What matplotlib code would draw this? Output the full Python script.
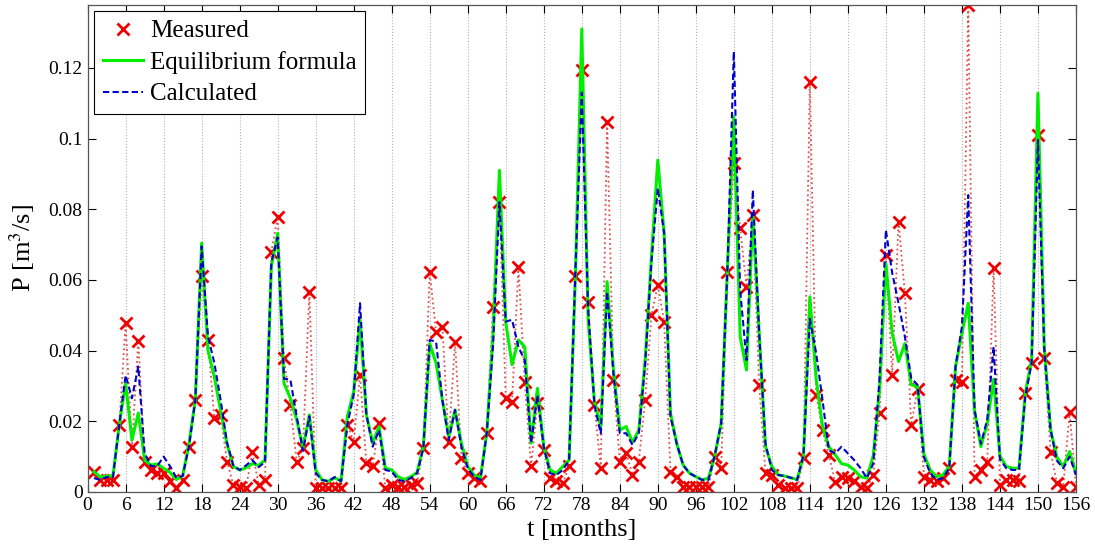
import matplotlib
matplotlib.use("Agg")
import matplotlib.pyplot as plt
import numpy as np
from matplotlib.ticker import FuncFormatter

months = list(range(1, 157))

measured = [
    0.0057, 0.0034, 0.0034, 0.0034, 0.019, 0.0477, 0.0128, 0.0428, 0.0086, 0.0062,
    0.0053, 0.0053, 0.003, 0.001, 0.0034, 0.0128, 0.026, 0.061, 0.043, 0.0209,
    0.0218, 0.0086, 0.002, 0.0015, 0.001, 0.0114, 0.002, 0.0034, 0.068, 0.0779,
    0.0378, 0.0246, 0.0086, 0.0124, 0.0567, 0.001, 0.001, 0.001, 0.001, 0.001,
    0.019, 0.0142, 0.0331, 0.0081, 0.0072, 0.0194, 0.001, 0.002, 0.0015, 0.0015,
    0.002, 0.0025, 0.0124, 0.0623, 0.0453, 0.0468, 0.0142, 0.0425, 0.0095, 0.0053,
    0.0039, 0.003, 0.0166, 0.0524, 0.0821, 0.0265, 0.0255, 0.0637, 0.0312, 0.0072,
    0.0251, 0.0119, 0.0039, 0.003, 0.0025, 0.0072, 0.061, 0.1194, 0.0538, 0.0246,
    0.0067, 0.1048, 0.0317, 0.0086, 0.011, 0.0048, 0.0086, 0.026, 0.050, 0.0586,
    0.0482, 0.0057, 0.0043, 0.0015, 0.0015, 0.0015, 0.0015, 0.0015, 0.010, 0.0067,
    0.0623, 0.093, 0.0746, 0.058, 0.0784, 0.0303, 0.0053, 0.0048, 0.002, 0.001,
    0.001, 0.001, 0.0095, 0.1161, 0.0274, 0.0175, 0.0105, 0.0028, 0.0043, 0.0039,
    0.003, 0.0015, 0.001, 0.0048, 0.0223, 0.067, 0.0331, 0.0765, 0.0562, 0.019,
    0.029, 0.0043, 0.0034, 0.003, 0.0039, 0.0067, 0.0317, 0.0312, 0.1378, 0.0043,
    0.0062, 0.0086, 0.0633, 0.002, 0.0034, 0.0034, 0.003, 0.0279, 0.0364, 0.101,
    0.0378, 0.0114, 0.0025, 0.0015, 0.0227, 0.0015,
]

equilibrium = [
    0.0057, 0.0042, 0.0045, 0.0045, 0.019, 0.0308, 0.0147, 0.0223, 0.009, 0.0076,
    0.0079, 0.0067, 0.0055, 0.0035, 0.0045, 0.0136, 0.026, 0.0704, 0.040, 0.0326,
    0.023, 0.0136, 0.0072, 0.0062, 0.0068, 0.008, 0.0075, 0.009, 0.0637, 0.0732,
    0.0307, 0.0265, 0.0204, 0.0124, 0.0218, 0.0062, 0.0034, 0.003, 0.004, 0.003,
    0.0213, 0.0284, 0.0487, 0.0219, 0.0138, 0.0185, 0.0067, 0.0062, 0.0043, 0.0035,
    0.0043, 0.0055, 0.0128, 0.042, 0.0364, 0.026, 0.0156, 0.0232, 0.0138, 0.0072,
    0.0048, 0.0039, 0.0166, 0.0449, 0.091, 0.048, 0.036, 0.043, 0.041, 0.0138,
    0.0293, 0.0128, 0.0062, 0.0053, 0.0072, 0.009, 0.0615, 0.131, 0.0487, 0.0255,
    0.0185, 0.0595, 0.0345, 0.0175, 0.0185, 0.014, 0.0175, 0.0373, 0.0666, 0.0939,
    0.0732, 0.0223, 0.0136, 0.0076, 0.0053, 0.0043, 0.0034, 0.0039, 0.0102, 0.0194,
    0.0637, 0.1062, 0.0439, 0.0345, 0.0788, 0.0449, 0.0128, 0.0072, 0.0048, 0.0045,
    0.004, 0.0035, 0.0102, 0.0552, 0.0319, 0.0185, 0.0128, 0.0105, 0.008, 0.0076,
    0.0062, 0.0043, 0.0039, 0.0102, 0.0288, 0.0647, 0.0449, 0.0369, 0.042, 0.0303,
    0.0298, 0.0107, 0.0062, 0.0043, 0.0048, 0.0072, 0.0355, 0.0449, 0.0534, 0.0228,
    0.0128, 0.0194, 0.0319, 0.0102, 0.0072, 0.0067, 0.0067, 0.0279, 0.0373, 0.1128,
    0.0411, 0.0175, 0.0098, 0.0072, 0.0114, 0.0053,
]

calculated = [
    0.0039, 0.0034, 0.0042, 0.0042, 0.019, 0.033, 0.0265, 0.0355, 0.011, 0.0073,
    0.0073, 0.010, 0.0073, 0.004, 0.0045, 0.0128, 0.026, 0.0695, 0.044, 0.0365,
    0.026, 0.014, 0.0075, 0.0062, 0.0075, 0.009, 0.007, 0.0085, 0.065, 0.072,
    0.032, 0.0318, 0.0214, 0.0116, 0.0214, 0.0053, 0.0034, 0.003, 0.0042, 0.003,
    0.019, 0.0275, 0.0534, 0.0219, 0.0128, 0.0175, 0.0062, 0.0058, 0.0034, 0.003,
    0.0039, 0.0053, 0.0124, 0.043, 0.0425, 0.026, 0.0147, 0.0232, 0.0128, 0.0067,
    0.0043, 0.0034, 0.0166, 0.0415, 0.082, 0.0482, 0.0487, 0.041, 0.0372, 0.0138,
    0.0274, 0.0128, 0.0053, 0.0048, 0.0062, 0.009, 0.0627, 0.113, 0.052, 0.0245,
    0.0165, 0.0566, 0.0335, 0.0166, 0.0166, 0.0133, 0.0166, 0.036, 0.0652, 0.086,
    0.0732, 0.0213, 0.0136, 0.0076, 0.0053, 0.0043, 0.0034, 0.0034, 0.0105, 0.0194,
    0.0637, 0.1246, 0.0571, 0.0373, 0.0854, 0.0449, 0.0136, 0.0062, 0.0048, 0.0045,
    0.004, 0.0034, 0.0105, 0.049, 0.0392, 0.026, 0.0118, 0.0109, 0.0128, 0.0109,
    0.009, 0.0067, 0.0039, 0.008, 0.0322, 0.0741, 0.0619, 0.0534, 0.0439, 0.0322,
    0.0303, 0.0098, 0.0053, 0.0034, 0.0039, 0.0067, 0.0355, 0.0468, 0.084, 0.0232,
    0.0136, 0.0205, 0.0411, 0.0093, 0.0067, 0.0062, 0.0062, 0.027, 0.0364, 0.0996,
    0.0402, 0.0175, 0.0088, 0.0067, 0.010, 0.0048,
]

xticks = list(range(0, 157, 6))
yticks = [0, 0.02, 0.04, 0.06, 0.08, 0.1, 0.12]

plt.rcParams['font.family'] = ['Liberation Serif', 'DejaVu Serif']
plt.rcParams['mathtext.fontset'] = 'stix'

fig = plt.figure(figsize=(10.95, 5.49), dpi=100)
ax = fig.add_axes([0.080, 0.104, 0.9026, 0.887])

# measurements first (dotted line + crosses), model curves drawn over them
ax.plot(months, measured, color='#e05050', linestyle=':', linewidth=1.3, zorder=2)
ax.plot(months, measured, linestyle='none', marker='x', color='#ee0000',
        markersize=8, markeredgewidth=2, label='Measured', zorder=2.5)
ax.plot(months, equilibrium, color='#00ee00', linewidth=2.2, label='Equilibrium formula', zorder=3)
ax.plot(months, calculated, color='#0000cc', linestyle=(0, (3, 1.6)), linewidth=1.5,
        label='Calculated', zorder=4)

ax.set_xlim(0, 156)
ax.set_ylim(0, 0.1378)
ax.set_xticks(xticks)
ax.set_yticks(yticks)
ax.yaxis.set_major_formatter(FuncFormatter(lambda v, p: '%g' % v))
ax.tick_params(direction='in', top=True, right=True, labelsize=14, length=6, width=0.8)
ax.xaxis.grid(True, linestyle=':', color='#b0b0b0', linewidth=0.8)
ax.set_axisbelow(True)
for s in ax.spines.values():
    s.set_color('#555555')
    s.set_linewidth(0.9)

ax.set_xlabel('t [months]', fontsize=19, labelpad=4)
ax.set_ylabel('P [m$^3$/s]', fontsize=19, labelpad=8)

leg = ax.legend(loc='upper left', fontsize=18, fancybox=False, framealpha=1,
                edgecolor='black', borderpad=0.35, labelspacing=0.35,
                handlelength=1.6, handletextpad=0.3, borderaxespad=0.25)
leg.get_frame().set_linewidth(0.8)

fig.savefig('out.png', dpi=100)
